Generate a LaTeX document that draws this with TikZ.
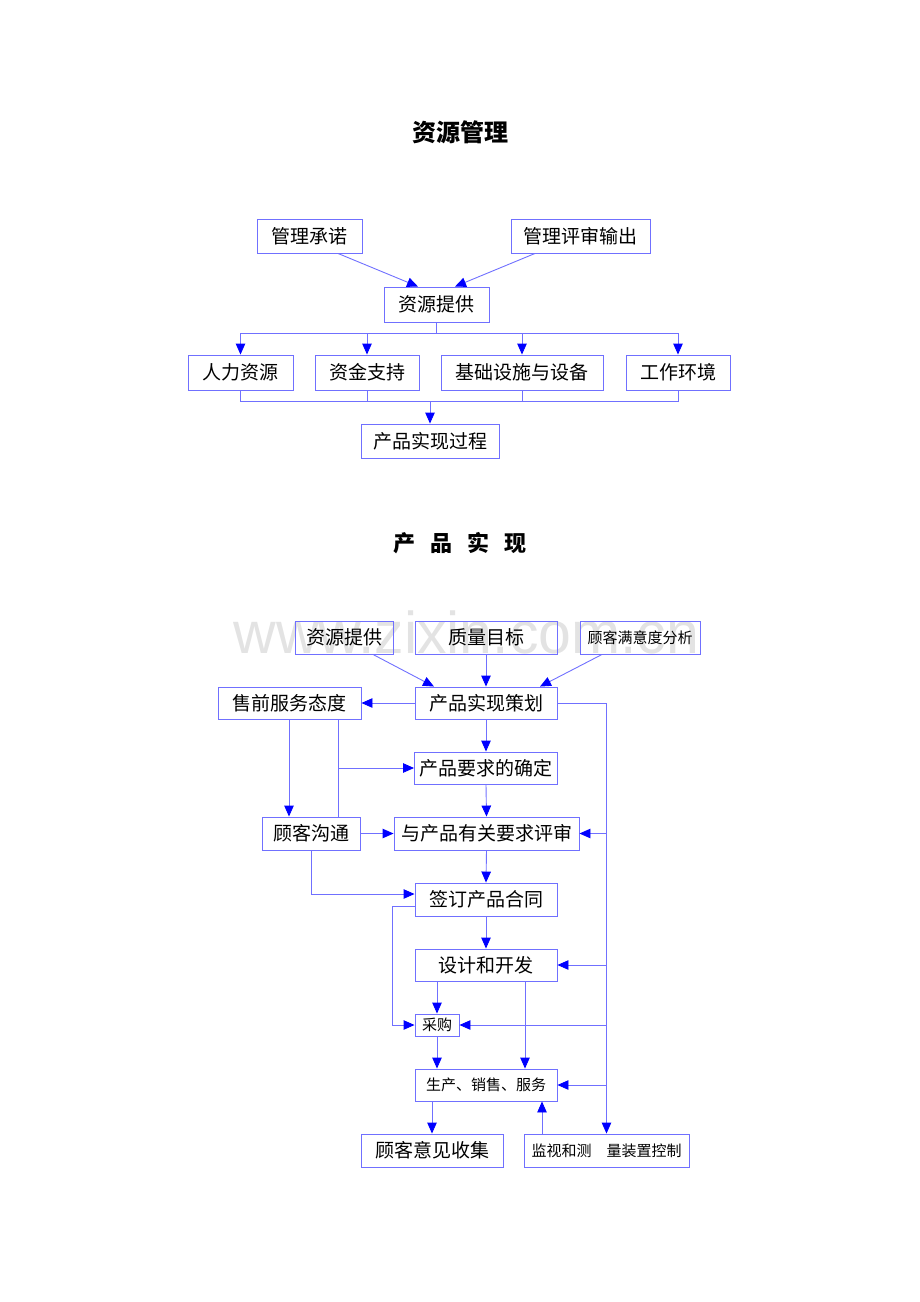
\documentclass[tikz,border=0pt]{standalone}
\usepackage{fontspec}
\newfontfamily\cjk{Noto Sans CJK SC}
\newfontfamily\wmfont{Liberation Sans}
\usetikzlibrary{arrows.meta}
\definecolor{lc}{RGB}{112,112,255}
\definecolor{ac}{RGB}{0,0,255}
\tikzset{
  box/.style={draw=lc, line width=0.9pt, inner sep=0pt, text=black,
    font=\cjk\fontsize{19}{19}\selectfont},
  sbox/.style={box, font=\cjk\fontsize{15}{15}\selectfont},
  conn/.style={draw=lc, line width=0.9pt, -{Triangle[length=11pt,width=9.5pt,color=ac]}},
  plain/.style={draw=lc, line width=0.9pt},
  ttl/.style={inner sep=0pt, text=black, font=\cjk\bfseries\fontsize{24}{24}\selectfont},
}
\begin{document}
\begin{tikzpicture}[x=1pt,y=-1pt]
\useasboundingbox (0,0) rectangle (920,1302);

% ---------- Section 1 ----------
\node[ttl] (t1) at (460,132) {资源管理};

\node[box, minimum width=105pt, minimum height=34pt] (mc) at (309.5,236) {管理承诺};
\node[box, minimum width=139pt, minimum height=34pt] (mr) at (580.5,236) {管理评审输出};
\node[box, minimum width=105pt, minimum height=35pt] (zy) at (436.5,304.5) {资源提供};
\node[box, minimum width=105pt, minimum height=35pt] (rl) at (240.5,372.5) {人力资源};
\node[box, minimum width=104pt, minimum height=35pt] (zj) at (367,372.5) {资金支持};
\node[box, minimum width=162pt, minimum height=35pt] (jc) at (522,372.5) {基础设施与设备};
\node[box, minimum width=104pt, minimum height=35pt] (gz) at (678,372.5) {工作环境};
\node[box, minimum width=138pt, minimum height=34pt] (cp) at (430,441) {产品实现过程};

\draw[conn] ([xshift=28.5pt]mc.south) -- ([xshift=-18.5pt]zy.north);
\draw[conn] ([xshift=-45.5pt]mr.south) -- ([xshift=18.5pt]zy.north);

\coordinate (b1) at ([yshift=-11pt]zy.south);
\draw[plain] (zy.south) -- (b1);
\draw[plain] (rl.north |- b1) -- (gz.north |- b1);
\draw[conn] (rl.north |- b1) -- (rl.north);
\draw[conn] (zj.north |- b1) -- (zj.north);
\draw[conn] (jc.north |- b1) -- (jc.north);
\draw[conn] (gz.north |- b1) -- (gz.north);

\coordinate (m1) at ([yshift=-11pt]rl.south);
\draw[plain] (rl.south) -- (m1) -- (gz.south |- m1) -- (gz.south);
\draw[plain] (zj.south) -- (zj.south |- m1);
\draw[plain] (jc.south) -- (jc.south |- m1);
\draw[conn] (cp.north |- m1) -- (cp.north);

% ---------- Section 2 ----------
\node[ttl, font=\cjk\bfseries\fontsize{22}{22}\selectfont] (t2) at (460,543) {产\hspace{15pt}品\hspace{15pt}实\hspace{15pt}现};

\node[inner sep=0pt, anchor=base, text=black!11, font=\wmfont\fontsize{59}{59}\selectfont] (wm) at (466.5,653) {www.zixin.com.cn};

\node[box, minimum width=98pt, minimum height=33pt] (bz) at (344,637.5) {资源提供};
\node[box, minimum width=142pt, minimum height=33pt] (zl) at (486,637.5) {质量目标};
\node[sbox, minimum width=120pt, minimum height=33pt] (gk) at (640,637.5) {顾客满意度分析};
\node[box, minimum width=142pt, minimum height=32pt] (ch) at (486,703) {产品实现策划};
\node[box, minimum width=143pt, minimum height=32pt] (sq) at (289.5,703) {售前服务态度};
\node[box, minimum width=143pt, minimum height=32pt] (yq) at (486,768) {产品要求的确定};
\node[box, minimum width=98pt, minimum height=33pt] (gt) at (311,833.5) {顾客沟通};
\node[box, minimum width=185pt, minimum height=33pt] (ps) at (486.5,833.5) {与产品有关要求评审};
\node[box, minimum width=142pt, minimum height=33pt] (qd) at (486,899.5) {签订产品合同};
\node[box, minimum width=142pt, minimum height=32pt] (sj) at (486,965) {设计和开发};
\node[sbox, minimum width=44pt, minimum height=22pt] (cg) at (437,1025) {采购};
\node[sbox, minimum width=142pt, minimum height=32pt] (sc) at (486,1085) {生产、销售、服务};
\node[box, minimum width=142pt, minimum height=33pt] (yj) at (432,1150.5) {顾客意见收集};
\node[sbox, minimum width=165pt, minimum height=33pt] (jk) at (606.5,1150.5) {监视和测\hspace{15pt}量装置控制};

% top inputs
\draw[conn] ([xshift=29pt]bz.south) -- ([xshift=-52pt]ch.north);
\draw[conn] (zl.south) -- (ch.north);
\draw[conn] ([xshift=-38pt]gk.south) -- ([xshift=54pt]ch.north);

% planning outputs
\draw[conn] (ch.west) -- (sq.east);
\draw[conn] (ch.east) -| (jk.north);
\draw[conn] (ch.south) -- (yq.north);

% pre-sale / customer communication
\coordinate (s0) at ([xshift=-0.5pt]sq.south);
\draw[conn] (s0) -- (s0 |- gt.north);
\coordinate (s1) at ([xshift=48.5pt]sq.south);
\draw[plain] (s1) -- (s1 |- gt.north);
\draw[conn] (s1 |- yq.west) -- (yq.west);
\draw[conn] (gt.east) -- (ps.west);
\draw[conn] (yq.south) -- (ps.north);
\draw[conn] (jk.north |- ps.east) -- (ps.east);
\draw[conn] (ps.south) -- (qd.north);
\coordinate (q2) at ([yshift=5.5pt]qd.west);
\draw[conn] (gt.south) |- (q2);

% contract / design / purchase
\draw[conn] (qd.south) -- (sj.north);
\draw[conn] (jk.north |- sj.east) -- (sj.east);
\coordinate (q1) at ([yshift=-6.5pt]qd.west);
\draw[conn] (q1) -- ++(-22,0) |- (cg.west);
\draw[conn] (cg.north |- sj.south) -- (cg.north);
\draw[conn] (jk.north |- cg.east) -- (cg.east);
\coordinate (s2) at ([xshift=39pt]sj.south);
\draw[conn] (s2) -- (s2 |- sc.north);
\draw[conn] (cg.south) -- (cg.south |- sc.north);
\draw[conn] (jk.north |- sc.east) -- (sc.east);

% outputs
\draw[conn] (yj.north |- sc.south) -- (yj.north);
\coordinate (j1) at ([xshift=-64.5pt]jk.north);
\draw[conn] (j1) -- (j1 |- sc.south);

\end{tikzpicture}
\end{document}
